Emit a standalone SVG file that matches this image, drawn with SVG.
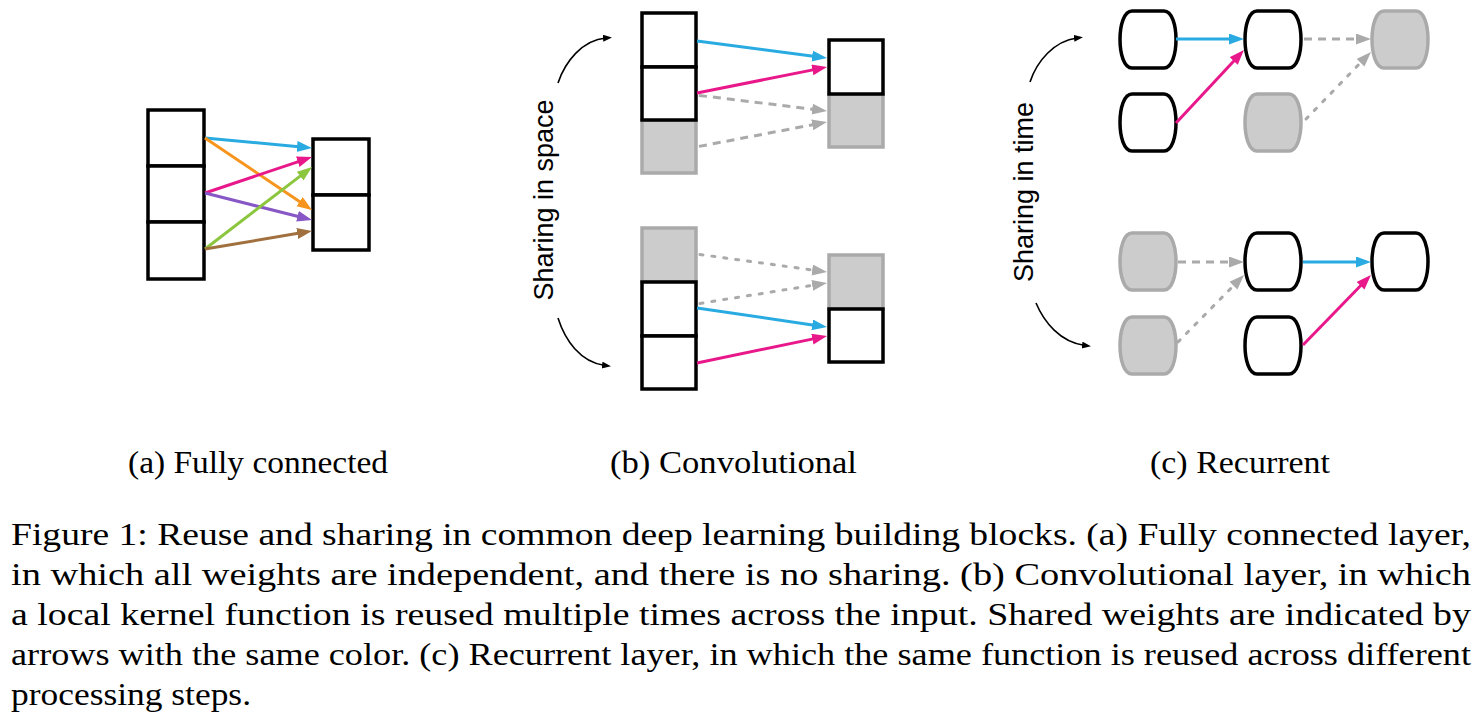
<svg xmlns="http://www.w3.org/2000/svg" xmlns:xlink="http://www.w3.org/1999/xlink" width="1484" height="728" viewBox="0 0 1484 728">
<style>
.box{fill:#fff;stroke:#000;stroke-width:3.5}
.gbox{fill:#cccccc;stroke:#aaaaaa;stroke-width:3.5}
.e{fill:none;stroke-width:3}
.dash{stroke:#aaaaaa;stroke-dasharray:8 6}
.dot{stroke:#aaaaaa;stroke-dasharray:3 9;stroke-linecap:round}
.curve{fill:none;stroke:#000;stroke-width:1.6}
.side{font-family:"Liberation Sans",Arial,sans-serif;font-size:27px;fill:#000}
.sub{font-family:"Liberation Serif","Times New Roman",serif;font-size:31px;fill:#000}
.cap{font-family:"Liberation Serif","Times New Roman",serif;font-size:31px;fill:#000}
</style>
<defs>
<path id="pill" d="M12,0 H44 C60,0 60,57 44,57 H12 C-4,57 -4,0 12,0 Z"/>
<marker id="mCyan" markerUnits="userSpaceOnUse" markerWidth="16" markerHeight="12" refX="7" refY="5.5" orient="auto"><path d="M0,0 L15,5.5 L0,11 Z" fill="#29abe2"/></marker>
<marker id="mPink" markerUnits="userSpaceOnUse" markerWidth="16" markerHeight="12" refX="7" refY="5.5" orient="auto"><path d="M0,0 L15,5.5 L0,11 Z" fill="#e8188b"/></marker>
<marker id="mOrange" markerUnits="userSpaceOnUse" markerWidth="16" markerHeight="12" refX="7" refY="5.5" orient="auto"><path d="M0,0 L15,5.5 L0,11 Z" fill="#f7941d"/></marker>
<marker id="mPurple" markerUnits="userSpaceOnUse" markerWidth="16" markerHeight="12" refX="7" refY="5.5" orient="auto"><path d="M0,0 L15,5.5 L0,11 Z" fill="#8757c6"/></marker>
<marker id="mGreen" markerUnits="userSpaceOnUse" markerWidth="16" markerHeight="12" refX="7" refY="5.5" orient="auto"><path d="M0,0 L15,5.5 L0,11 Z" fill="#8cc63f"/></marker>
<marker id="mBrown" markerUnits="userSpaceOnUse" markerWidth="16" markerHeight="12" refX="7" refY="5.5" orient="auto"><path d="M0,0 L15,5.5 L0,11 Z" fill="#a0703f"/></marker>
<marker id="mGray" markerUnits="userSpaceOnUse" markerWidth="16" markerHeight="12" refX="7" refY="5.5" orient="auto"><path d="M0,0 L15,5.5 L0,11 Z" fill="#aaaaaa"/></marker>
<marker id="mBlack" markerUnits="userSpaceOnUse" markerWidth="10" markerHeight="8" refX="3" refY="3.5" orient="auto"><path d="M0,0 L9,3.5 L0,7 Z" fill="#000"/></marker>
</defs>
<rect width="1484" height="728" fill="#fff"/>

<!-- Panel (a) -->
<g id="a-in1"><rect class="box" x="148" y="110" width="56" height="56"/></g>
<g id="a-in2"><rect class="box" x="148" y="166" width="56" height="56"/></g>
<g id="a-in3"><rect class="box" x="148" y="222" width="56" height="57"/></g>
<g id="a-out1"><rect class="box" x="313" y="139" width="56" height="56"/></g>
<g id="a-out2"><rect class="box" x="313" y="195" width="56" height="55"/></g>

<!-- Panel (b) -->
<g id="b1-in3"><rect class="gbox" x="642" y="120" width="54" height="53"/></g>
<g id="b1-in1"><rect class="box" x="642" y="13" width="54" height="54"/></g>
<g id="b1-in2"><rect class="box" x="642" y="67" width="54" height="53"/></g>
<g id="b1-out2"><rect class="gbox" x="829" y="94" width="54" height="53"/></g>
<g id="b1-out1"><rect class="box" x="829" y="40" width="54" height="54"/></g>

<g id="b2-in1"><rect class="gbox" x="642" y="228" width="54" height="54"/></g>
<g id="b2-in2"><rect class="box" x="642" y="282" width="54" height="54"/></g>
<g id="b2-in3"><rect class="box" x="642" y="336" width="54" height="53"/></g>
<g id="b2-out1"><rect class="gbox" x="829" y="255" width="54" height="54"/></g>
<g id="b2-out2"><rect class="box" x="829" y="309" width="54" height="53"/></g>

<g id="label-space"><text class="side" transform="translate(553,200) rotate(-90)" text-anchor="middle">Sharing in space</text></g>

<!-- Panel (c) -->
<g id="c1-x1"><use href="#pill" x="1120" y="11" class="box"/></g>
<g id="c1-h1"><use href="#pill" x="1245" y="11" class="box"/></g>
<g id="c1-h2"><use href="#pill" x="1372" y="11" class="gbox"/></g>
<g id="c1-x0"><use href="#pill" x="1120" y="94" class="box"/></g>
<g id="c1-x2"><use href="#pill" x="1245" y="94" class="gbox"/></g>

<g id="c2-h0"><use href="#pill" x="1120" y="233" class="gbox"/></g>
<g id="c2-h1"><use href="#pill" x="1245" y="233" class="box"/></g>
<g id="c2-h2"><use href="#pill" x="1372" y="233" class="box"/></g>
<g id="c2-x0"><use href="#pill" x="1120" y="317" class="gbox"/></g>
<g id="c2-x1"><use href="#pill" x="1245" y="317" class="box"/></g>

<g id="label-time"><text class="side" transform="translate(1033,192) rotate(-90)" text-anchor="middle">Sharing in time</text></g>

<!-- Connectors -->
<g id="connectors">
<line class="e" stroke="#29abe2" x1="205" y1="138" x2="304" y2="147.25" marker-end="url(#mCyan)"/>
<line class="e" stroke="#f7941d" x1="205" y1="138" x2="305.4" y2="205.5" marker-end="url(#mOrange)"/>
<line class="e" stroke="#e8188b" x1="205" y1="193" x2="304.4" y2="159.6" marker-end="url(#mPink)"/>
<line class="e" stroke="#8757c6" x1="205" y1="193" x2="304.3" y2="218" marker-end="url(#mPurple)"/>
<line class="e" stroke="#8cc63f" x1="205" y1="249" x2="305.7" y2="171.9" marker-end="url(#mGreen)"/>
<line class="e" stroke="#a0703f" x1="205" y1="249" x2="304.1" y2="232.3" marker-end="url(#mBrown)"/>

<line class="e" stroke="#29abe2" x1="697" y1="41" x2="819.1" y2="57" marker-end="url(#mCyan)"/>
<line class="e" stroke="#e8188b" x1="697" y1="93" x2="819.2" y2="68.6" marker-end="url(#mPink)"/>
<line class="e dash" x1="699" y1="95.4" x2="819.1" y2="110" marker-end="url(#mGray)"/>
<line class="e dash" x1="699" y1="146.4" x2="819.1" y2="123.5" marker-end="url(#mGray)"/>

<line class="e dot" x1="700" y1="254.5" x2="819.1" y2="270.9" marker-end="url(#mGray)"/>
<line class="e dot" x1="700" y1="303.4" x2="819.1" y2="284.3" marker-end="url(#mGray)"/>
<line class="e" stroke="#29abe2" x1="697" y1="308" x2="819.1" y2="325.9" marker-end="url(#mCyan)"/>
<line class="e" stroke="#e8188b" x1="697" y1="363" x2="819.2" y2="337.6" marker-end="url(#mPink)"/>

<line class="e" stroke="#29abe2" x1="1176" y1="39" x2="1236" y2="39" marker-end="url(#mCyan)"/>
<line class="e" stroke="#e8188b" x1="1176" y1="123" x2="1238.5" y2="55.9" marker-end="url(#mPink)"/>
<line class="e dash" x1="1304" y1="39" x2="1363" y2="39" marker-end="url(#mGray)"/>
<line class="e dot" x1="1306" y1="119" x2="1365.4" y2="57.7" marker-end="url(#mGray)"/>

<line class="e dash" x1="1178" y1="262" x2="1236" y2="262" marker-end="url(#mGray)"/>
<line class="e dot" x1="1178" y1="342" x2="1238.4" y2="280.7" marker-end="url(#mGray)"/>
<line class="e" stroke="#29abe2" x1="1303" y1="262" x2="1363" y2="262" marker-end="url(#mCyan)"/>
<line class="e" stroke="#e8188b" x1="1303" y1="345" x2="1365.4" y2="280.7" marker-end="url(#mPink)"/>

<path class="curve" d="M558,83 C565,62 582,40 606,38" marker-end="url(#mBlack)"/>
<path class="curve" d="M558,318 C565,340 580,362 605,365.5" marker-end="url(#mBlack)"/>
<path class="curve" d="M1030,82 C1037,61 1054,41 1077,38" marker-end="url(#mBlack)"/>
<path class="curve" d="M1036,303 C1044,322 1060,342 1085,345.5" marker-end="url(#mBlack)"/>
</g>

<!-- Sub-captions -->
<text class="sub" x="128" y="473" textLength="260" lengthAdjust="spacingAndGlyphs">(a) Fully connected</text>
<text class="sub" x="610" y="473" textLength="247" lengthAdjust="spacingAndGlyphs">(b) Convolutional</text>
<text class="sub" x="1150" y="473" textLength="180" lengthAdjust="spacingAndGlyphs">(c) Recurrent</text>

<!-- Figure caption -->
<text class="cap" x="11" y="545" textLength="1460" lengthAdjust="spacingAndGlyphs">Figure 1: Reuse and sharing in common deep learning building blocks. (a) Fully connected layer,</text>
<text class="cap" x="11" y="585" textLength="1460" lengthAdjust="spacingAndGlyphs">in which all weights are independent, and there is no sharing. (b) Convolutional layer, in which</text>
<text class="cap" x="11" y="625" textLength="1460" lengthAdjust="spacingAndGlyphs">a local kernel function is reused multiple times across the input. Shared weights are indicated by</text>
<text class="cap" x="11" y="665" textLength="1460" lengthAdjust="spacingAndGlyphs">arrows with the same color. (c) Recurrent layer, in which the same function is reused across different</text>
<text class="cap" x="11" y="705" textLength="240" lengthAdjust="spacingAndGlyphs">processing steps.</text>
</svg>
